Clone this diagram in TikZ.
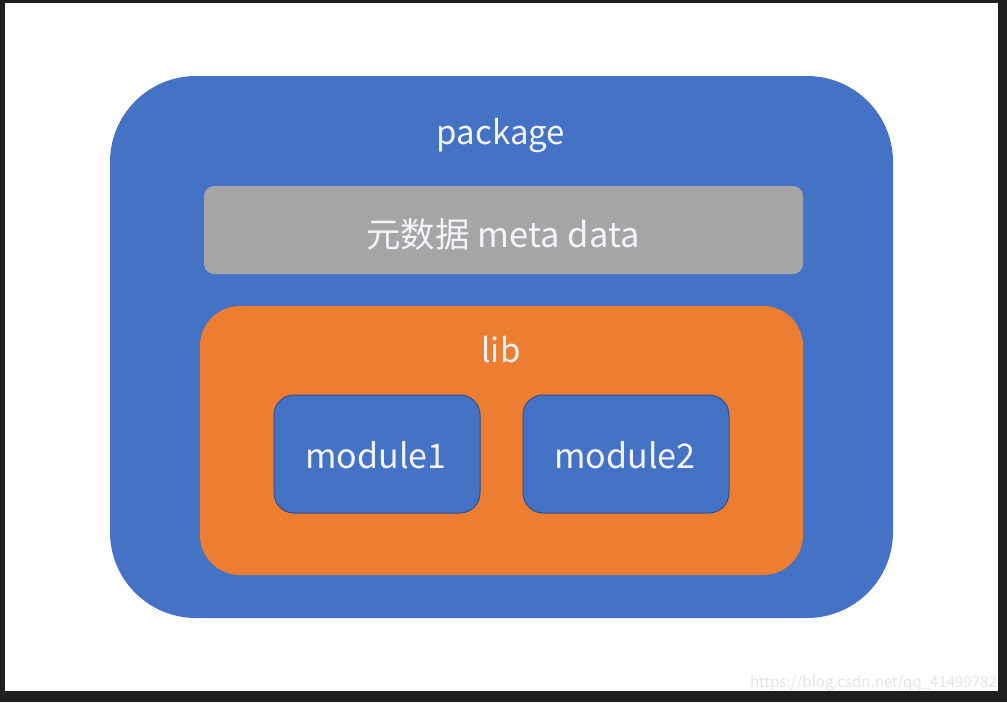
\documentclass[tikz,border=0pt]{standalone}
\usepackage{fontspec}
\setmainfont{Noto Sans CJK SC}
\definecolor{frame}{HTML}{1F1F1F}
\definecolor{pkgblue}{HTML}{4472C4}
\definecolor{liborange}{HTML}{ED7D31}
\definecolor{metagray}{HTML}{A5A5A5}
\definecolor{modborder}{HTML}{2F528F}
\definecolor{txt}{HTML}{F2F4FA}
\definecolor{wm}{HTML}{E4E4E4}
\tikzset{
  box/.style={anchor=north west, inner sep=0pt, outer sep=0pt},
  lbl/.style={text=txt, inner sep=0pt},
}
\begin{document}
\begin{tikzpicture}[x=1pt,y=-1pt]
\useasboundingbox (0,0) rectangle (1007,702);
\fill[frame] (0,0) rectangle (1007,702);
\fill[white] (5,3) rectangle (998,691);
\node[box, fill=pkgblue, rounded corners=86pt, minimum width=783pt, minimum height=542pt] (pkg) at (110,76) {};
\node[box, fill=metagray, rounded corners=10pt, minimum width=599pt, minimum height=88pt] (meta) at (204,186) {};
\node[box, fill=liborange, rounded corners=40pt, minimum width=603pt, minimum height=269pt] (lib) at (200,306) {};
\node[box, fill=pkgblue, draw=modborder, line width=1pt, rounded corners=20pt, minimum width=206pt, minimum height=118pt] (m1) at (274,395) {};
\node[box, fill=pkgblue, draw=modborder, line width=1pt, rounded corners=20pt, minimum width=206pt, minimum height=118pt] (m2) at (523,395) {};
\node[lbl, font=\fontsize{33}{38}\selectfont] (pkgt) at (501,135) {package};
\node[lbl, font=\fontsize{34.5}{40}\selectfont] (metat) at (503,234) {元数据 meta data};
\node[lbl, font=\fontsize{33}{38}\selectfont] (libt) at (501,350) {lib};
\node[lbl, font=\fontsize{34}{39}\selectfont] (m1t) at (376,455) {module1};
\node[lbl, font=\fontsize{34}{39}\selectfont] (m2t) at (625,455) {module2};
\node[text=wm, font=\fontsize{15}{17}\selectfont, inner sep=0pt, anchor=south east] (wmt) at (997,691) {https://blog.csdn.net/qq\_41499782};
\end{tikzpicture}
\end{document}
